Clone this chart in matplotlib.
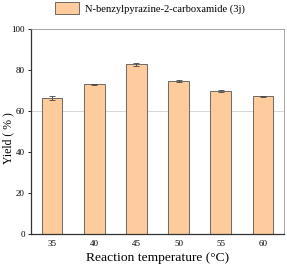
import numpy as np
import matplotlib.pyplot as plt

temps = [35, 40, 45, 50, 55, 60]
yields = [66.5, 73.0, 82.8, 74.6, 69.8, 67.2]
errors = [0.9, 0.4, 0.8, 0.6, 0.5, 0.3]
label = 'N-benzylpyrazine-2-carboxamide (3j)'

plt.rcParams['font.family'] = ['Liberation Serif', 'DejaVu Serif']

fig = plt.figure(figsize=(2.87, 2.69), dpi=100)
ax = fig.add_axes([31 / 287, 1 - 234 / 269, 253 / 287, 205 / 269])

ax.axhline(60, color='#d0d0d0', lw=0.6, zorder=0)
ax.bar(temps, yields, width=2.45, color='#fdcb9c', edgecolor='#555555',
       linewidth=0.6, label=label, zorder=2)
ax.errorbar(temps, yields, yerr=errors, fmt='none', ecolor='#444444',
            elinewidth=0.6, capsize=2, capthick=0.6, zorder=3)

ax.set_xlim(32.5, 62.5)
ax.set_ylim(0, 100)
ax.set_xticks(temps)
ax.set_yticks([0, 20, 40, 60, 80, 100])
ax.tick_params(axis='x', length=0, labelsize=6.5, pad=4)
ax.tick_params(axis='y', length=2.5, width=0.6, labelsize=6.5, pad=2)
for s in ['top', 'right']:
    ax.spines[s].set_color('#999999')
    ax.spines[s].set_linewidth(0.6)
for s in ['left', 'bottom']:
    ax.spines[s].set_color('#333333')
    ax.spines[s].set_linewidth(0.9)

ax.set_xlabel('Reaction temperature (\u00b0C)', fontsize=9.7, labelpad=3)
ax.set_ylabel('Yield ( % )', fontsize=8.5, va='center')
ax.yaxis.set_label_coords(-23 / 253, 0.47)
ax.legend(loc='center', bbox_to_anchor=(150 / 287, 1 - 8 / 269),
          bbox_transform=fig.transFigure, frameon=False, fontsize=7.6,
          handlelength=2.3, handleheight=1.3, handletextpad=0.6)

fig.savefig('out.png', dpi=100)
